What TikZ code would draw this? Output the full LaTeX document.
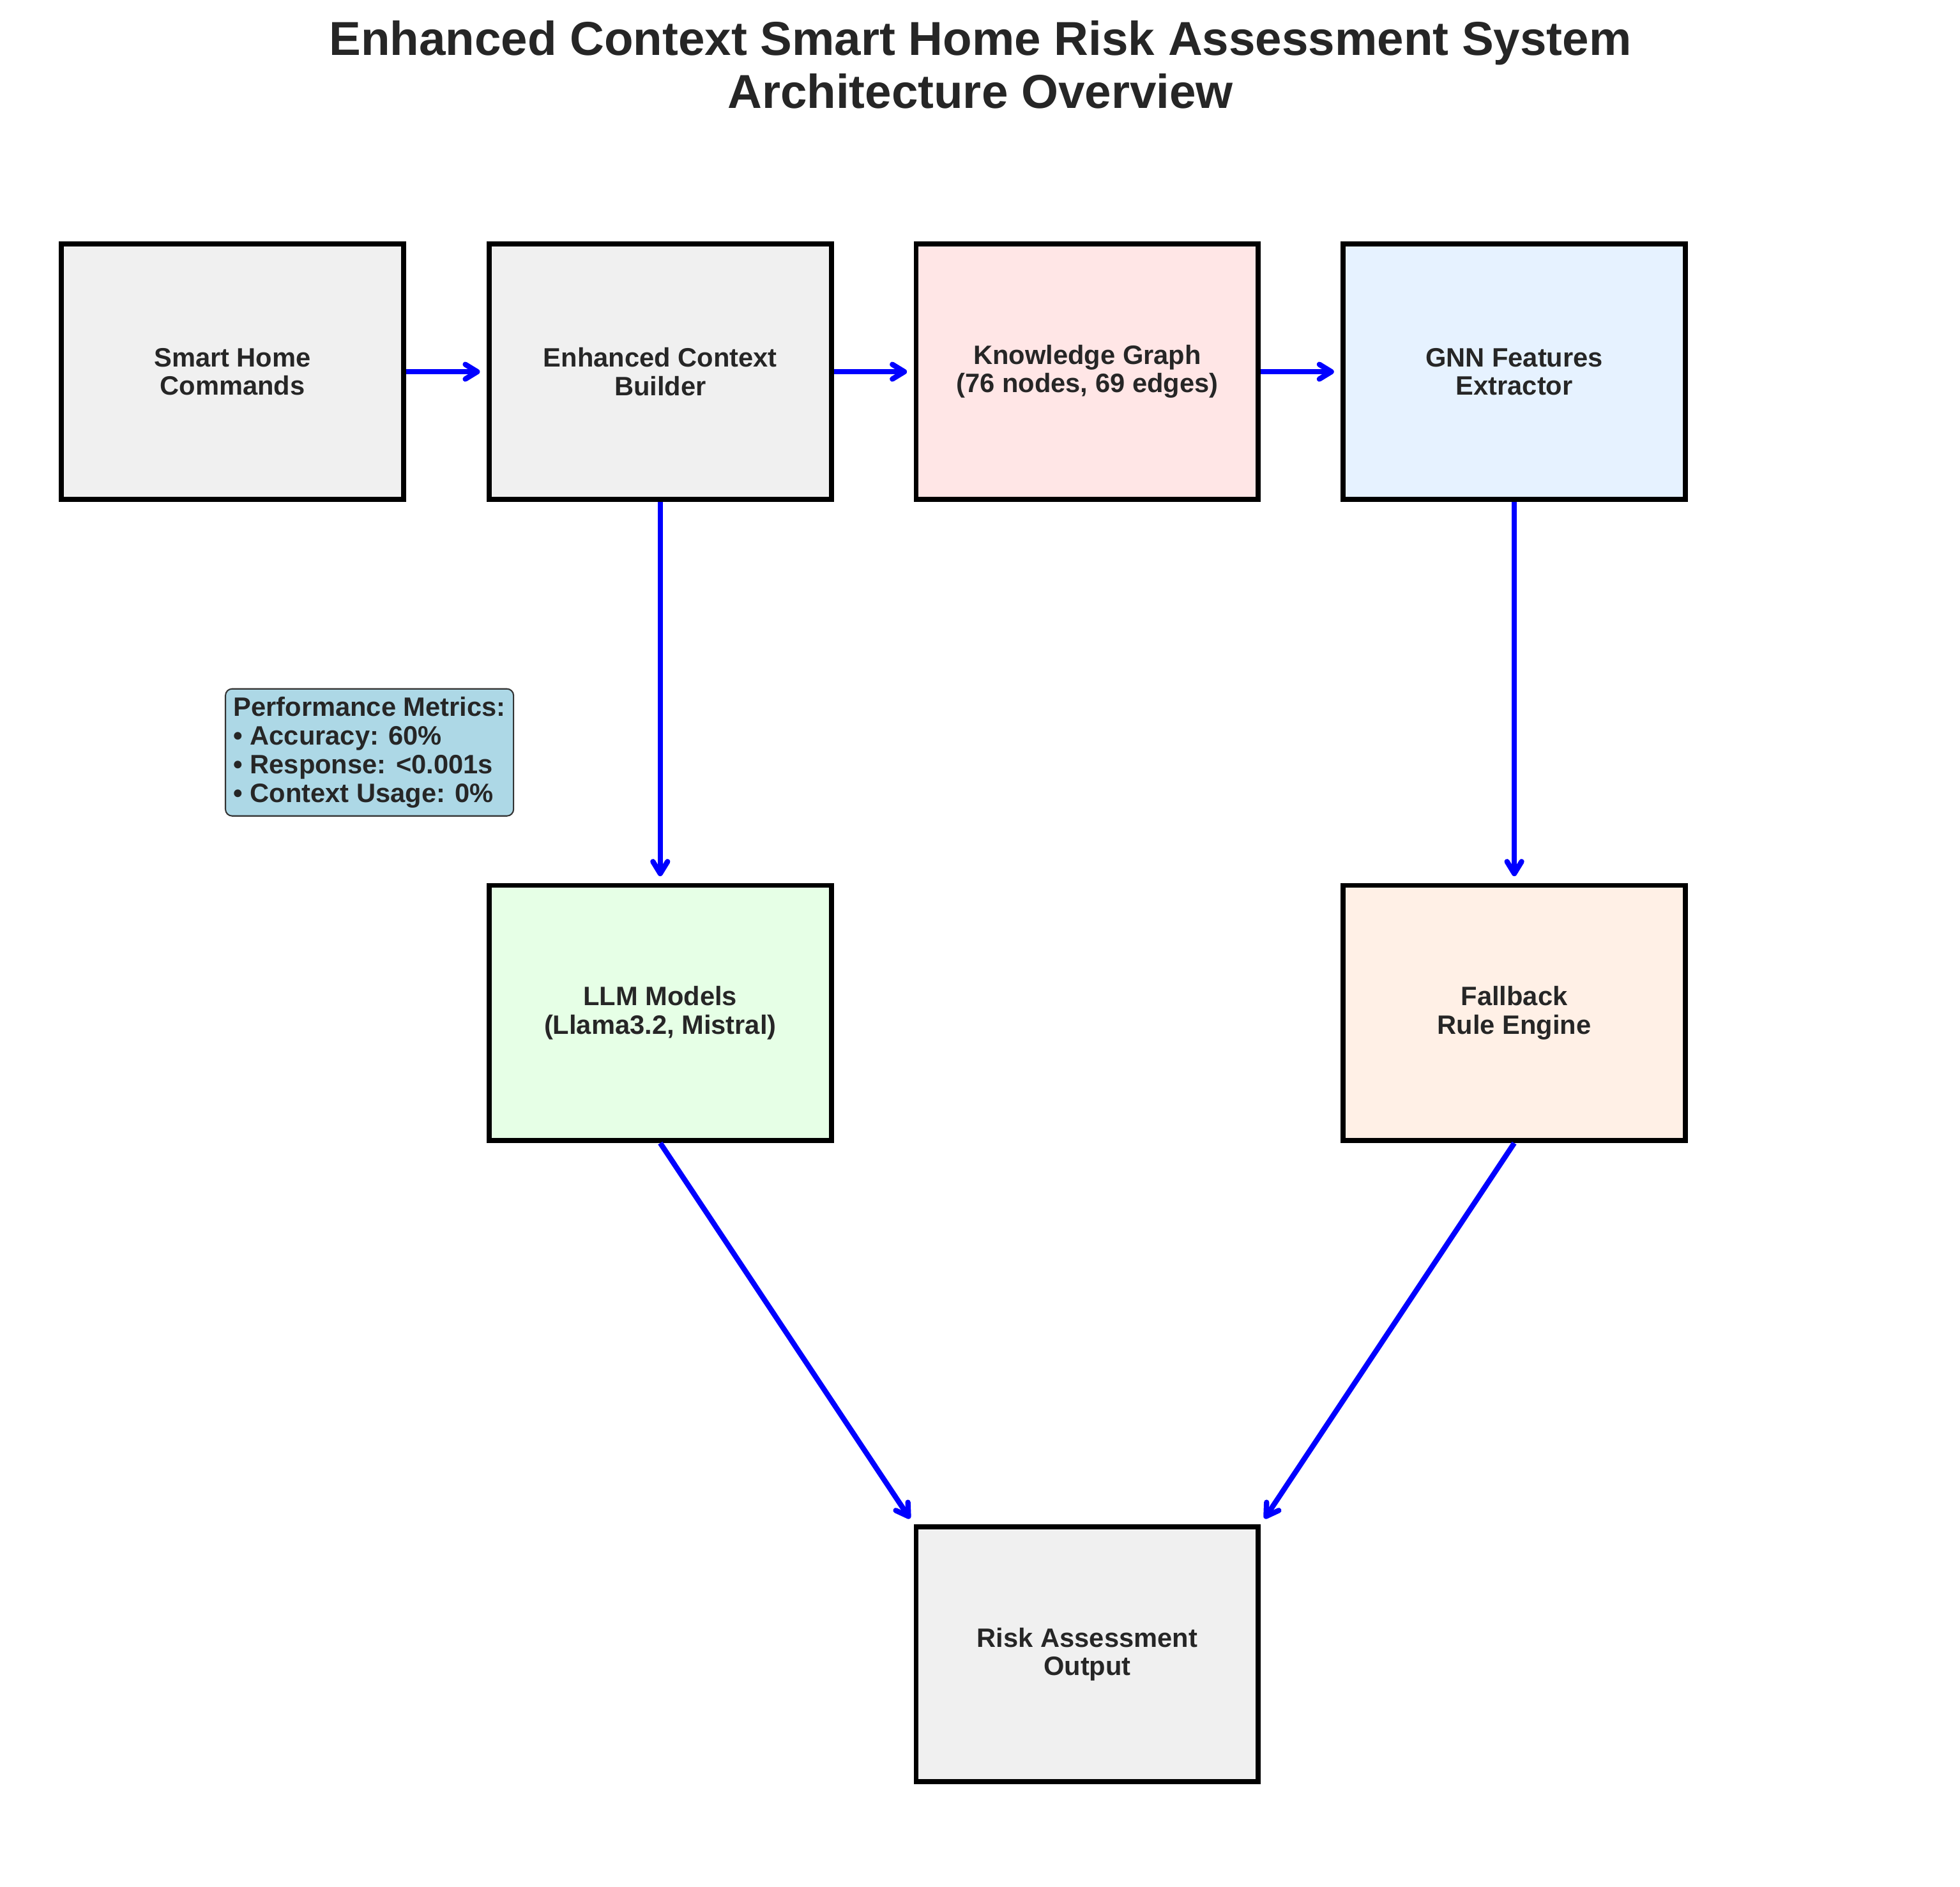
\documentclass[tikz,border=0pt]{standalone}
\usepackage{fontspec}
\setmainfont{Liberation Sans}
\usetikzlibrary{arrows.meta}
\definecolor{cmdgray}{HTML}{F0F0F0}
\definecolor{kgpink}{HTML}{FFE6E6}
\definecolor{gnnblue}{HTML}{E6F2FF}
\definecolor{llmgreen}{HTML}{E6FFE6}
\definecolor{rulepeach}{HTML}{FFF0E6}
\definecolor{metricblue}{HTML}{ADD8E6}
\definecolor{labelgray}{HTML}{262626}

\begin{document}
\begin{tikzpicture}[
        block/.style={draw=black, line width=1.9pt, minimum width=4.52cm, minimum height=3.37cm,
            inner sep=0pt, align=center, text=labelgray, font=\fontsize{10}{10.6}\selectfont\bfseries},
        flow/.style={draw=blue, line width=2pt, shorten >=2.5pt,
            -{Straight Barb[length=4.5pt,width=5.5pt,round]}}
    ]
        \useasboundingbox (0,0) rectangle (25.887,-24.917);

        % 标题
        \node[anchor=north, inner sep=0pt, align=center, text=labelgray,
            font=\fontsize{17.9}{19.9}\selectfont\bfseries] (title) at (12.948,-0.27)
            {Enhanced Context Smart Home Risk Assessment System\\Architecture Overview};

        % 第一行模块
        \node[block, fill=cmdgray] (cmd) at (3.07,-4.91) {Smart Home\\Commands};
        \node[block, fill=cmdgray] (ctx) at (8.72,-4.91) {Enhanced Context\\Builder};
        \node[block, fill=kgpink] (kg) at (14.36,-4.91) {Knowledge Graph\\(76 nodes, 69 edges)};
        \node[block, fill=gnnblue] (gnn) at (20.00,-4.91) {GNN Features\\Extractor};

        % 第二行模块
        \node[block, fill=llmgreen] (llm) at (8.72,-13.38) {LLM Models\\(Llama3.2, Mistral)};
        \node[block, fill=rulepeach] (rules) at (20.00,-13.38) {Fallback\\Rule Engine};

        % 输出模块
        \node[block, fill=cmdgray] (risk) at (14.36,-21.85) {Risk Assessment\\Output};

        % 性能指标
        \node[anchor=north west, draw=black!80, line width=0.5pt, fill=metricblue,
            rounded corners=2.5pt, inner sep=3pt, align=left, text=labelgray,
            font=\fontsize{10}{10.8}\selectfont\bfseries] (metrics) at (2.969,-9.09) {
            Performance Metrics:\\
            • Accuracy: 60\%\\
            • Response: <0.001s\\
            • Context Usage: 0\%
        };

        % 数据流
        \draw[flow] (cmd.east) -- (ctx.west);
        \draw[flow] (ctx.east) -- (kg.west);
        \draw[flow] (kg.east) -- (gnn.west);
        \draw[flow] (ctx.south) -- (llm.north);
        \draw[flow] (gnn.south) -- (rules.north);
        \draw[flow] (llm.south) -- (risk.north west);
        \draw[flow] (rules.south) -- (risk.north east);
    \end{tikzpicture}
\end{document}
